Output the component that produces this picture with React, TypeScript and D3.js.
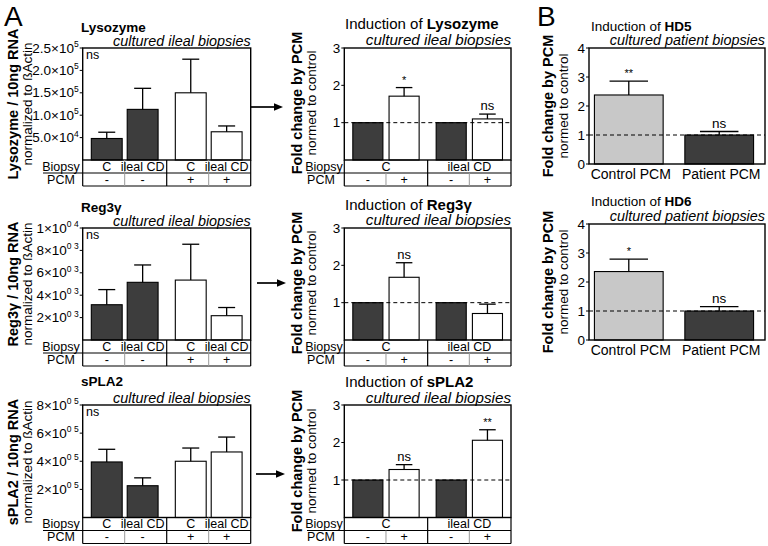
import React from "react";
import * as d3 from "d3";

const FONT = "'Liberation Sans', Arial, Helvetica, sans-serif";
const DARK = "#3d3d3d";
const LIGHT = "#c8c8c8";

// Categories
const biopsyGroups = ["C", "ileal CD"];
const pcmLevels = ["-", "+"];
const bCategories = ["Control PCM", "Patient PCM"];

// Absolute expression (order: PCM- C, PCM- ileal CD, PCM+ C, PCM+ ileal CD)
const lysoMean = [48000, 113000, 150000, 63000];
const lysoErr = [14000, 47000, 75000, 13000];
const lysoTicks = [50000, 100000, 150000, 200000, 250000];
const lysoTickMant = ["5.0", "1.0", "1.5", "2.0", "2.5"];
const lysoTickExp = ["4", "5", "5", "5", "5"];

const regMean = [3150, 5150, 5350, 2170];
const regErr = [1350, 1550, 3200, 730];
const regTicks = [2000, 4000, 6000, 8000, 10000];
const regTickMant = ["2", "4", "6", "8", "1"];
const regTickExp = ["0 3", "0 3", "0 3", "0 3", "0 4"];

const splaMean = [395000, 226000, 400000, 466000];
const splaErr = [90000, 56000, 94000, 106000];
const splaTicks = [200000, 400000, 600000, 800000];
const splaTickMant = ["2", "4", "6", "8"];
const splaTickExp = ["0 5", "0 5", "0 5", "0 5"];

// Fold change (order: C -, C +, ileal CD -, ileal CD +)
const lysoFold = [1, 1.71, 1, 1.1];
const lysoFoldErr = [0, 0.23, 0, 0.13];
const lysoFoldSig = ["", "*", "", "ns"];
const regFold = [1, 1.68, 1, 0.71];
const regFoldErr = [0, 0.39, 0, 0.25];
const regFoldSig = ["", "ns", "", ""];
const splaFold = [1, 1.28, 1, 2.06];
const splaFoldErr = [0, 0.13, 0, 0.28];
const splaFoldSig = ["", "ns", "", "**"];
const foldTicks = [1, 2, 3];

// Panel B
const hd5Fold = [2.38, 1.0];
const hd5Err = [0.48, 0.12];
const hd5Sig = ["**", "ns"];
const hd6Fold = [2.36, 1.0];
const hd6Err = [0.43, 0.15];
const hd6Sig = ["*", "ns"];
const bTicks = [0, 1, 2, 3, 4];

const ROW_H = 13;

function YLabel({ x1, x2, cy, bold, normal, size1 = 14.5, size2 = 13.5 }) {
  return (
    <g>
      <text transform={`translate(${x1},${cy}) rotate(-90)`} textAnchor="middle" fontWeight="bold" fontSize={size1} fontFamily={FONT}>
        {bold}
      </text>
      <text transform={`translate(${x2},${cy}) rotate(-90)`} textAnchor="middle" fontSize={size2} fontFamily={FONT}>
        {normal}
      </text>
    </g>
  );
}

function ErrBar({ cx, yTop, yErr, w }) {
  return (
    <g stroke="#000" strokeWidth={1.3}>
      <line x1={cx} x2={cx} y1={yTop} y2={yErr} />
      <line x1={cx - w / 2} x2={cx + w / 2} y1={yErr} y2={yErr} />
    </g>
  );
}

function Arrow({ x1, x2, y }) {
  return (
    <g>
      <line x1={x1} x2={x2 - 7} y1={y} y2={y} stroke="#000" strokeWidth={1.7} />
      <polygon points={`${x2},${y} ${x2 - 9},${y - 3.8} ${x2 - 9},${y + 3.8}`} fill="#000" />
    </g>
  );
}

function AbsPanel({ top, base, ymax, means, errs, ticks, tickMant, tickExp, gene, ylabelBold, titleY, subY, labelCy }) {
  const x0 = 82.7;
  const x1 = 250.7;
  const y = d3.scaleLinear().domain([0, ymax]).range([base, top]);
  const outer = d3.scaleBand<string>().domain(pcmLevels).range([x0, x1]);
  const inner = d3
    .scaleBand<string>()
    .domain(biopsyGroups)
    .range([0, outer.bandwidth()])
    .paddingInner(0.14)
    .paddingOuter(0.24);
  const bars: any[] = [];
  pcmLevels.forEach((p, i) =>
    biopsyGroups.forEach((b, j) => {
      const k = i * 2 + j;
      bars.push({ p, b, v: means[k], e: errs[k], x: (outer(p) as number) + (inner(b) as number), w: inner.bandwidth() });
    })
  );
  const mids = pcmLevels.map((p) => (outer(p) as number) + outer.bandwidth() / 2);
  const groupB = outer(pcmLevels[1]) as number;
  const tBot = base + 2 * ROW_H;
  return (
    <g fontFamily={FONT}>
      <text x={81} y={titleY} fontSize={13.5} fontWeight="bold">{gene}</text>
      <text x={x1} y={subY} fontSize={14.4} fontStyle="italic" textAnchor="end">cultured ileal biopsies</text>
      <YLabel x1={17.5} x2={31.5} cy={labelCy} bold={ylabelBold} normal="normalized to ßActin" />
      {bars.map((d, i) => (
        <g key={i}>
          <rect x={d.x} y={y(d.v)} width={d.w} height={base - y(d.v)} fill={d.p === "-" ? DARK : "#fff"} stroke="#000" strokeWidth={1.1} />
          <ErrBar cx={d.x + d.w / 2} yTop={y(d.v)} yErr={y(d.v + d.e)} w={d.w * 0.55} />
        </g>
      ))}
      <rect x={x0} y={top} width={x1 - x0} height={base - top} fill="none" stroke="#000" strokeWidth={1.4} />
      {ticks.map((t, i) => (
        <g key={i}>
          <line x1={x0 - 3} x2={x0} y1={y(t)} y2={y(t)} stroke="#000" strokeWidth={1} />
          <text x={x0 - 4} y={y(t) + 4.5} fontSize={13.5} textAnchor="end">
            <tspan>{tickMant[i]}×10</tspan>
            <tspan dy={-5.5} fontSize={8.5}>{tickExp[i]}</tspan>
          </text>
        </g>
      ))}
      <text x={86} y={top + 11} fontSize={12.5}>ns</text>
      {/* table */}
      <g stroke="#000" strokeWidth={1.2}>
        <line x1={x0} x2={x0} y1={base} y2={tBot} />
        <line x1={x1} x2={x1} y1={base} y2={tBot} />
        <line x1={43} x2={x1} y1={base + ROW_H} y2={base + ROW_H} />
        <line x1={x0} x2={x1} y1={tBot} y2={tBot} />
        <line x1={groupB} x2={groupB} y1={base} y2={tBot} />
      </g>
      {mids.map((m, i) => (
        <line key={i} x1={m} x2={m} y1={base} y2={tBot} stroke="#999" strokeWidth={1} />
      ))}
      <text x={61} y={base + 10.5} fontSize={12.5} textAnchor="middle">Biopsy</text>
      <text x={61} y={base + ROW_H + 10.5} fontSize={12.5} textAnchor="middle">PCM</text>
      {bars.map((d, i) => (
        <g key={i}>
          <text x={d.x + d.w / 2} y={base + 10.5} fontSize={12.5} textAnchor="middle">{d.b}</text>
          <text x={d.x + d.w / 2} y={base + ROW_H + 10.5} fontSize={12.5} textAnchor="middle">{d.p}</text>
        </g>
      ))}
    </g>
  );
}

function FoldPanel({ top, base, vals, errs, sigs, gene, titleY, subY, labelCy }) {
  const x0 = 344.3;
  const x1 = 511;
  const y = d3.scaleLinear().domain([0, 3]).range([base, top]);
  const outer = d3.scaleBand<string>().domain(biopsyGroups).range([x0, x1]);
  const inner = d3
    .scaleBand<string>()
    .domain(pcmLevels)
    .range([0, outer.bandwidth()])
    .paddingInner(0.17)
    .paddingOuter(0.235);
  const bars: any[] = [];
  biopsyGroups.forEach((b, i) =>
    pcmLevels.forEach((p, j) => {
      const k = i * 2 + j;
      bars.push({ p, b, v: vals[k], e: errs[k], s: sigs[k], x: (outer(b) as number) + (inner(p) as number), w: inner.bandwidth() });
    })
  );
  const mids = biopsyGroups.map((b) => (outer(b) as number) + outer.bandwidth() / 2);
  const groupB = outer(biopsyGroups[1]) as number;
  const tBot = base + 2 * ROW_H;
  return (
    <g fontFamily={FONT}>
      <text x={345} y={titleY} fontSize={15}>
        <tspan>Induction of </tspan>
        <tspan fontWeight="bold">{gene}</tspan>
      </text>
      <text x={x1} y={subY} fontSize={15.2} fontStyle="italic" textAnchor="end">cultured ileal biopsies</text>
      <YLabel x1={302} x2={316} cy={labelCy} bold="Fold change by PCM" normal="normed to control" />
      {bars.map((d, i) => (
        <g key={i}>
          <rect x={d.x} y={y(d.v)} width={d.w} height={base - y(d.v)} fill={d.p === "-" ? DARK : "#fff"} stroke="#000" strokeWidth={1.1} />
          {d.e > 0 && <ErrBar cx={d.x + d.w / 2} yTop={y(d.v)} yErr={y(d.v + d.e)} w={d.w * 0.55} />}
          {d.s && (
            <text x={d.x + d.w / 2} y={y(d.v + d.e) - 4} fontSize={d.s === "ns" ? 13 : 11} textAnchor="middle">{d.s}</text>
          )}
        </g>
      ))}
      <line x1={x0} x2={x1} y1={y(1)} y2={y(1)} stroke="#000" strokeWidth={1} strokeDasharray="4,3" />
      <rect x={x0} y={top} width={x1 - x0} height={base - top} fill="none" stroke="#000" strokeWidth={1.4} />
      {foldTicks.map((t, i) => (
        <g key={i}>
          <line x1={x0 - 3} x2={x0} y1={y(t)} y2={y(t)} stroke="#000" strokeWidth={1} />
          <text x={x0 - 4} y={y(t) + 4.5} fontSize={13.5} textAnchor="end">{t}</text>
        </g>
      ))}
      <g stroke="#000" strokeWidth={1.2}>
        <line x1={x0} x2={x0} y1={base} y2={tBot} />
        <line x1={x1} x2={x1} y1={base} y2={tBot} />
        <line x1={307} x2={x1} y1={base + ROW_H} y2={base + ROW_H} />
        <line x1={x0} x2={x1} y1={tBot} y2={tBot} />
        <line x1={groupB} x2={groupB} y1={base} y2={tBot} />
      </g>
      {mids.map((m, i) => (
        <line key={i} x1={m} x2={m} y1={base + ROW_H} y2={tBot} stroke="#999" strokeWidth={1} />
      ))}
      <text x={324} y={base + 10.5} fontSize={12.5} textAnchor="middle">Biopsy</text>
      <text x={321} y={base + ROW_H + 10.5} fontSize={12.5} textAnchor="middle">PCM</text>
      {biopsyGroups.map((b, i) => (
        <text key={i} x={mids[i]} y={base + 10.5} fontSize={12.5} textAnchor="middle">{b}</text>
      ))}
      {bars.map((d, i) => (
        <text key={i} x={d.x + d.w / 2} y={base + ROW_H + 10.5} fontSize={12.5} textAnchor="middle">{d.p}</text>
      ))}
    </g>
  );
}

function BPanel({ top, base, vals, errs, sigs, gene, titleY, subY, labelCy }) {
  const x0 = 589;
  const x1 = 765;
  const y = d3.scaleLinear().domain([0, 4]).range([base, top]);
  const x = d3.scaleBand<string>().domain(bCategories).range([x0, 759]).paddingInner(0.24).paddingOuter(0.06);
  return (
    <g fontFamily={FONT}>
      <text x={591} y={titleY} fontSize={13.5}>
        <tspan>Induction of </tspan>
        <tspan fontWeight="bold">{gene}</tspan>
      </text>
      <text x={x1} y={subY} fontSize={14.4} fontStyle="italic" textAnchor="end">cultured patient biopsies</text>
      <YLabel x1={553} x2={568} cy={labelCy} bold="Fold change by PCM" normal="normed to control" />
      {bCategories.map((c, i) => {
        const bx = x(c) as number;
        const w = x.bandwidth();
        return (
          <g key={i}>
            <rect x={bx} y={y(vals[i])} width={w} height={base - y(vals[i])} fill={i === 0 ? LIGHT : DARK} stroke="#000" strokeWidth={1.1} />
            <ErrBar cx={bx + w / 2} yTop={y(vals[i])} yErr={y(vals[i] + errs[i])} w={w * 0.56} />
            <text x={bx + w / 2} y={y(vals[i] + errs[i]) - 4} fontSize={sigs[i] === "ns" ? 13.5 : 11} textAnchor="middle">{sigs[i]}</text>
            <text x={bx + w / 2 + 2} y={base + 14.5} fontSize={14} textAnchor="middle">{c}</text>
          </g>
        );
      })}
      <line x1={x0} x2={x1} y1={y(1)} y2={y(1)} stroke="#000" strokeWidth={1} strokeDasharray="4,3" />
      <rect x={x0} y={top} width={x1 - x0} height={base - top} fill="none" stroke="#000" strokeWidth={1.4} />
      {bTicks.map((t, i) => (
        <g key={i}>
          <line x1={x0 - 3} x2={x0} y1={y(t)} y2={y(t)} stroke="#000" strokeWidth={1} />
          <text x={x0 - 4} y={y(t) + 4.5} fontSize={13.5} textAnchor="end">{t}</text>
        </g>
      ))}
    </g>
  );
}

export default function App() {
  return (
    <svg width={768} height={546} style={{ position: "absolute", left: 0, top: 0, background: "#fff" }}>
      <rect width={768} height={546} fill="#fff" />
      <text x={4} y={26} fontSize={28} fontFamily={FONT}>A</text>
      <text x={537} y={26} fontSize={28} fontFamily={FONT}>B</text>

      <AbsPanel top={48} base={160} ymax={250000} means={lysoMean} errs={lysoErr} ticks={lysoTicks} tickMant={lysoTickMant} tickExp={lysoTickExp} gene="Lysozyme" ylabelBold="Lysozyme / 10ng RNA" titleY={31.5} subY={45.5} labelCy={104} />
      <AbsPanel top={228} base={340} ymax={10000} means={regMean} errs={regErr} ticks={regTicks} tickMant={regTickMant} tickExp={regTickExp} gene="Reg3γ" ylabelBold="Reg3γ / 10ng RNA" titleY={211.5} subY={225.5} labelCy={284} />
      <AbsPanel top={405} base={517.5} ymax={800000} means={splaMean} errs={splaErr} ticks={splaTicks} tickMant={splaTickMant} tickExp={splaTickExp} gene="sPLA2" ylabelBold="sPLA2 / 10ng RNA" titleY={386} subY={403} labelCy={462} />

      <FoldPanel top={48} base={160} vals={lysoFold} errs={lysoFoldErr} sigs={lysoFoldSig} gene="Lysozyme" titleY={29} subY={45} labelCy={103} />
      <FoldPanel top={228} base={340} vals={regFold} errs={regFoldErr} sigs={regFoldSig} gene="Reg3γ" titleY={209.5} subY={225} labelCy={283} />
      <FoldPanel top={405} base={517.5} vals={splaFold} errs={splaFoldErr} sigs={splaFoldSig} gene="sPLA2" titleY={386.5} subY={403} labelCy={461} />

      <BPanel top={48} base={164} vals={hd5Fold} errs={hd5Err} sigs={hd5Sig} gene="HD5" titleY={30.5} subY={45} labelCy={106} />
      <BPanel top={224} base={340} vals={hd6Fold} errs={hd6Err} sigs={hd6Sig} gene="HD6" titleY={205.5} subY={221} labelCy={282} />

      <Arrow x1={251} x2={283} y={107} />
      <Arrow x1={257} x2={286} y={283} />
      <Arrow x1={256} x2={285} y={474} />
    </svg>
  );
}
